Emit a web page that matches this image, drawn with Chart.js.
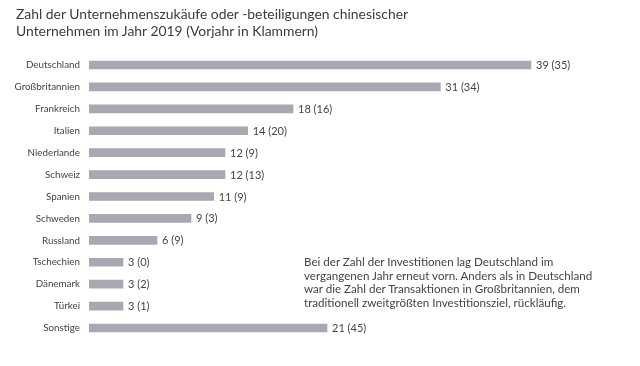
<!DOCTYPE html>
<html lang="de">
<head>
<meta charset="utf-8">
<script src="https://cdn.jsdelivr.net/npm/chart.js@4"></script>
<style>
  html, body { margin: 0; padding: 0; background: #fff; }
  #wrap { position: relative; width: 640px; height: 366px; overflow: hidden; font-family: Lato, "Open Sans", sans-serif; }
  #title { position: absolute; left: 16px; top: 5px; font-size: 13.9px; line-height: 17px; color: #3c3c3c; }
  #note { position: absolute; left: 304px; top: 255px; font-size: 11.6px; line-height: 13.6px; color: #444; }
  canvas { position: absolute; left: 0; top: 0; }
</style>
</head>
<body>
<div id="wrap">
  <canvas id="chart" width="640" height="366"></canvas>
  <div id="title">Zahl der Unternehmenszukäufe oder -beteiligungen chinesischer<br>Unternehmen im Jahr 2019 (Vorjahr in Klammern)</div>
  <div id="note">Bei der Zahl der Investitionen lag Deutschland im<br>vergangenen Jahr erneut vorn. Anders als in Deutschland<br>war die Zahl der Transaktionen in Großbritannien, dem<br>traditionell zweitgrößten Investitionsziel, rückläufig.</div>
</div>
<script>
// Länder und Werte
const countries = ['Deutschland', 'Großbritannien', 'Frankreich', 'Italien', 'Niederlande', 'Schweiz',
    'Spanien', 'Schweden', 'Russland', 'Tschechien', 'Dänemark', 'Türkei', 'Sonstige'];
const deals2019 = [39, 31, 18, 14, 12, 12, 11, 9, 6, 3, 3, 3, 21];
const deals2018 = [35, 34, 16, 20, 9, 13, 9, 3, 9, 0, 2, 1, 45];

const textColor = '#444';
const barColor = '#a9a7b2';

// Draws "39 (35)" right after each bar
const valueLabels = {
    id: 'valueLabels',
    afterDatasetsDraw(chart) {
        const ctx = chart.ctx;
        const meta = chart.getDatasetMeta(0);
        ctx.save();
        ctx.font = '11px Lato, "Open Sans", sans-serif';
        ctx.fillStyle = textColor;
        ctx.textBaseline = 'middle';
        ctx.textAlign = 'left';
        meta.data.forEach((bar, i) => {
            ctx.fillText(`${deals2019[i]} (${deals2018[i]})`, bar.x + 5, bar.y + 0.5);
        });
        ctx.restore();
    }
};

const chart = new Chart(document.getElementById('chart'), {
    type: 'bar',
    data: {
        labels: countries,
        datasets: [{
            data: deals2019,
            backgroundColor: barColor,
            barThickness: 8,
            borderWidth: 0
        }]
    },
    options: {
        indexAxis: 'y',
        responsive: false,
        animation: false,
        layout: { padding: { top: 54, bottom: 27, left: 0, right: 41 } },
        plugins: {
            legend: { display: false },
            tooltip: { enabled: false }
        },
        scales: {
            x: {
                min: 0,
                max: 45,
                display: false
            },
            y: {
                grid: { display: false, drawTicks: false },
                border: { display: false },
                ticks: {
                    color: textColor,
                    padding: 9,
                    font: { family: 'Lato, "Open Sans", sans-serif', size: 9.8 }
                },
                afterFit(scale) { scale.width = 89; }
            }
        }
    },
    plugins: [valueLabels]
});
</script>
</body>
</html>
